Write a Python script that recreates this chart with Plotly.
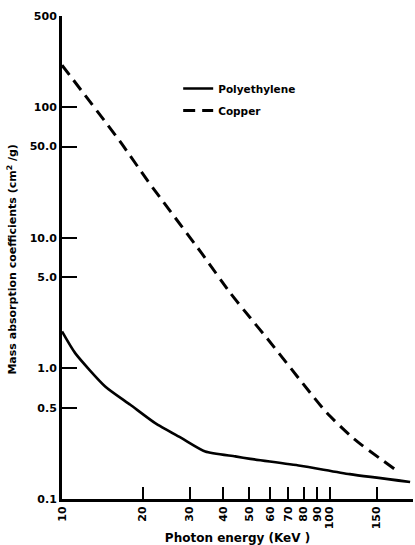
import plotly.graph_objects as go
import numpy as np

# Data
poly_energy = [10, 11.2, 14.5, 18.0, 22.3, 28.0, 34.3, 44.4, 50.6, 77.7, 119, 200]
poly_coeff = [1.92, 1.31, 0.728, 0.527, 0.381, 0.292, 0.231, 0.212, 0.203, 0.18, 0.155, 0.135]

copper_energy = [10, 16.5, 21, 33.3, 42.6, 50.6, 58.4, 84.7, 97.8, 123, 176]
copper_coeff = [210, 54.5, 27, 7.6, 3.77, 2.43, 1.7, 0.65, 0.455, 0.29, 0.168]

x_tickvals = [10, 20, 30, 40, 50, 60, 70, 80, 90, 100, 150]
x_ticktext = ["10", "20", "30", "40", "50", "60", "70", "80", "90", "100", "150"]
y_tickvals = [0.1, 0.5, 1.0, 5.0, 10.0, 50.0, 100, 500]
y_ticktext = ["0.1", "0.5", "1.0", "5.0", "10.0", "50.0", "100", "500"]

FONT = "DejaVu Sans"

fig = go.Figure()
fig.add_trace(go.Scatter(
    x=poly_energy, y=poly_coeff, mode="lines", name="Polyethylene",
    legendgroup="a",
    line=dict(color="black", width=2.6, shape="spline", smoothing=0.6),
))
fig.add_trace(go.Scatter(
    x=copper_energy, y=copper_coeff, mode="lines", name="Copper",
    legendgroup="b",
    line=dict(color="black", width=3, dash="12px,7px", shape="spline", smoothing=0.6),
))

fig.update_layout(
    width=415, height=545,
    margin=dict(l=62, r=2, t=16, b=46, autoexpand=False),
    paper_bgcolor="white", plot_bgcolor="white",
    font=dict(family=FONT, color="black", size=11, weight="bold"),
    showlegend=True,
    legend=dict(
        x=0.331, y=0.880, xanchor="left", yanchor="top",
        bgcolor="rgba(0,0,0,0)", borderwidth=0,
        font=dict(family=FONT, size=10.5, color="black", weight="bold"),
        traceorder="grouped", tracegroupgap=3,
    ),
    xaxis=dict(
        type="log", range=[1, np.log10(205)], automargin=False,
        tickmode="array", tickvals=x_tickvals, ticktext=x_ticktext,
        tickangle=-90, ticks="inside", ticklen=12, tickwidth=2, tickcolor="black",
        showline=True, linecolor="black", linewidth=3,
        showgrid=False, zeroline=False,
        tickfont=dict(family=FONT, size=11, color="black", weight="bold"),
        title=dict(text="Photon energy (KeV )", standoff=6,
                   font=dict(family=FONT, size=12, color="black", weight="bold")),
    ),
    yaxis=dict(
        type="log", range=[-1, np.log10(500)], automargin=False,
        tickmode="array", tickvals=y_tickvals, ticktext=y_ticktext,
        ticks="inside", ticklen=15, tickwidth=2, tickcolor="black",
        showline=True, linecolor="black", linewidth=3,
        showgrid=False, zeroline=False,
        tickfont=dict(family=FONT, size=11, color="black", weight="bold"),
    ),
    annotations=[dict(
        text="Mass absorption coefficients (cm<sup>2</sup> /g)",
        xref="paper", yref="paper", x=-0.142, y=0.496,
        xanchor="center", yanchor="middle", textangle=-90, showarrow=False,
        font=dict(family=FONT, size=11, color="black", weight="bold"),
    )],
)

fig.write_html(
    "out.html",
    config={"displayModeBar": False},
    post_script="document.body.style.margin='0';document.body.style.overflow='hidden';",
)
